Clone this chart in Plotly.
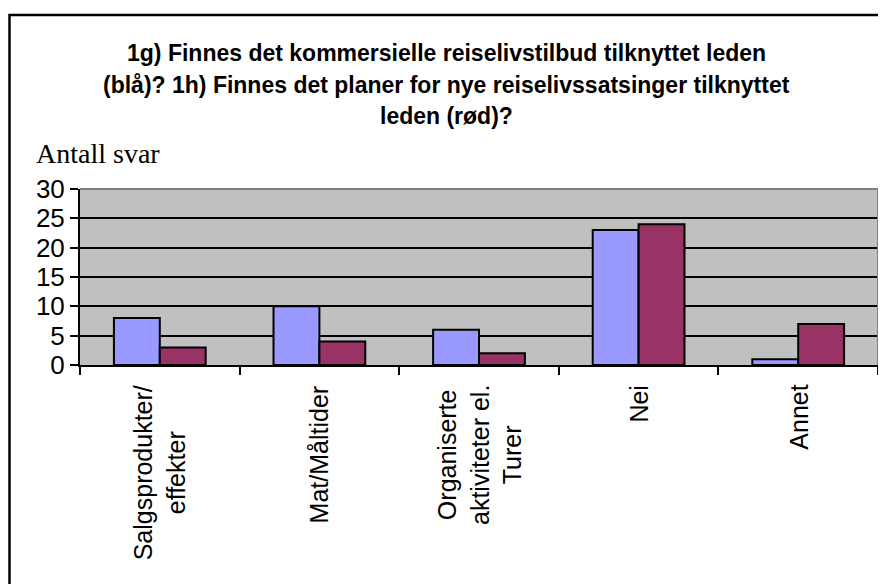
import plotly.graph_objects as go

categories = ["Salgsprodukter/<br>effekter", "Mat/Måltider", "Organiserte<br>aktiviteter el.<br>Turer", "Nei", "Annet"]
blue_values = [8, 10, 6, 23, 1]   # 1g) kommersielle reiselivstilbud (blå)
red_values = [3, 4, 2, 24, 7]     # 1h) planer for nye reiselivssatsinger (rød)
title_lines = [
    "1g) Finnes det kommersielle reiselivstilbud tilknyttet leden",
    "(blå)? 1h) Finnes det planer for nye reiselivssatsinger tilknyttet",
    "leden (rød)?",
]
y_title = "Antall svar"

# page has an 8px body margin, so the figure is drawn 8px smaller and everything
# is positioned in screen pixels minus 8
OFF = 8
W, H = 886 - OFF, 584 - OFF
ml, mr, mt, mb = 80 - OFF, 8, 189 - OFF, 584 - 365
pw = W - ml - mr
ph = H - mt - mb


def px_x(x):
    return (x - OFF - ml) / pw


def px_y(y):
    return (H - mb - (y - OFF)) / ph


fig = go.Figure()
fig.add_trace(go.Bar(x=categories, y=blue_values, name="blå",
                     marker=dict(color="#9999FF", line=dict(color="black", width=2))))
fig.add_trace(go.Bar(x=categories, y=red_values, name="rød",
                     marker=dict(color="#993366", line=dict(color="black", width=2))))

fig.update_layout(
    width=W, height=H,
    margin=dict(l=ml, r=mr, t=mt, b=mb),
    paper_bgcolor="white",
    plot_bgcolor="#C0C0C0",
    barmode="group",
    bargap=0.425,
    bargroupgap=0,
    showlegend=False,
    font=dict(family="Liberation Sans, Arial", color="black"),
)

fig.update_yaxes(
    range=[0, 30], dtick=5,
    showgrid=True, gridcolor="black", gridwidth=2,
    showline=True, linecolor="black", linewidth=2,
    ticks="outside", ticklen=8, tickcolor="black", tickwidth=2,
    tickfont=dict(size=26, family="Liberation Sans, Arial"),
    zeroline=False,
)
fig.update_xaxes(
    showline=True, linecolor="black", linewidth=2,
    ticks="outside", ticklen=8, tickcolor="black", tickwidth=2,
    tickson="boundaries",
    showticklabels=False,
)

# category labels, rotated, lines centred like Excel
for c in categories:
    fig.add_annotation(x=c, xref="x", y=0, yref="paper", yshift=-18,
                       text=c, textangle=-90, showarrow=False,
                       xanchor="center", yanchor="top", align="center",
                       font=dict(size=25, family="Liberation Sans, Arial"))

# title, one annotation per line for Excel-like spacing
for i, line in enumerate(title_lines):
    fig.add_annotation(x=px_x(446), xref="paper", y=px_y(53 + 31.5 * i), yref="paper",
                       text="<b>" + line + "</b>", showarrow=False,
                       xanchor="center", yanchor="middle",
                       font=dict(size=23, family="Liberation Sans, Arial"))

fig.add_annotation(x=px_x(34), xref="paper", y=px_y(153), yref="paper",
                   text=y_title, showarrow=False, xanchor="left", yanchor="middle",
                   font=dict(size=28, family="Liberation Serif, Times New Roman"))

# plot area top/right edge (grey) and outer chart border
fig.add_shape(type="line", xref="paper", yref="paper", x0=0, x1=1, y0=1, y1=1,
              line=dict(color="#808080", width=2))
fig.add_shape(type="line", xref="paper", yref="paper", x0=1, x1=1, y0=0, y1=1,
              line=dict(color="#808080", width=2))
fig.add_shape(type="rect", xref="paper", yref="paper",
              x0=px_x(9.5), x1=px_x(900), y0=px_y(600), y1=px_y(15),
              line=dict(color="black", width=2.5), layer="above")

fig.write_html("out.html")
